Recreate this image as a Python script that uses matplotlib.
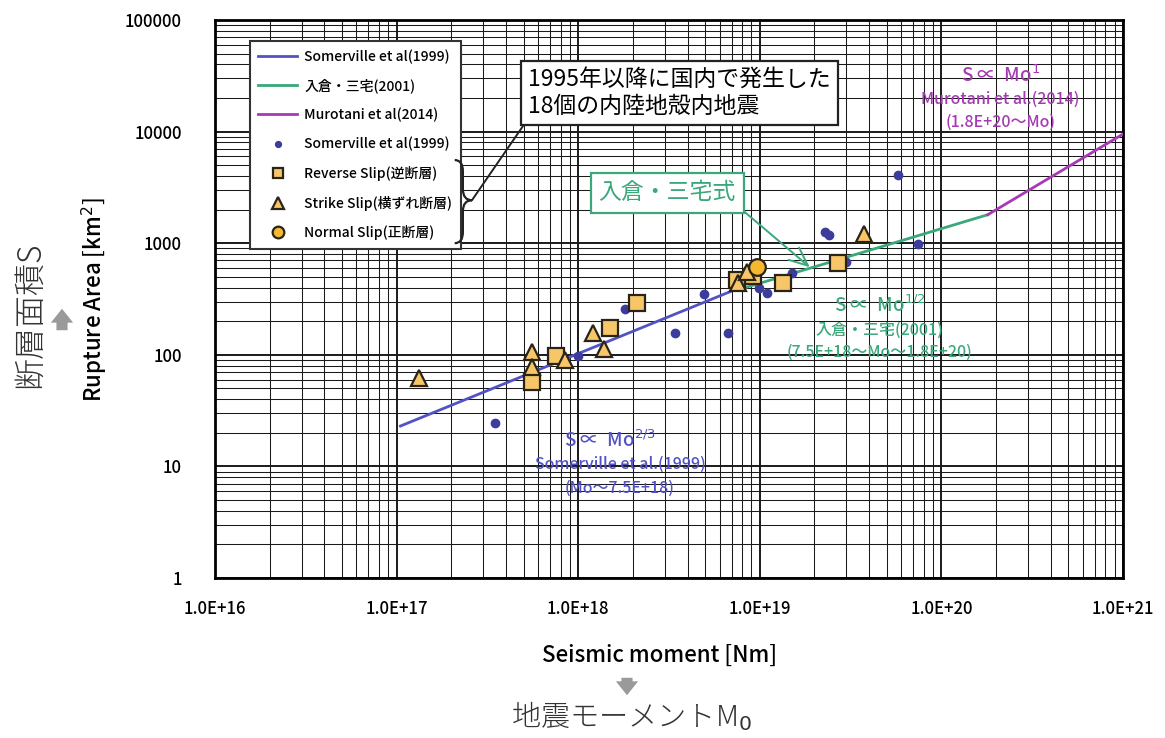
import numpy as np
import matplotlib
matplotlib.use('Agg')
import matplotlib.pyplot as plt
from matplotlib.ticker import LogLocator, FuncFormatter, NullFormatter
from matplotlib.path import Path
from matplotlib.patches import PathPatch

plt.rcParams['font.family'] = ['Noto Sans CJK JP', 'DejaVu Sans']

# scaling law lines (end points)
somer_x = [1.05e17, 7.5e18]
somer_y = [23, 390]
iri_x = [7.5e18, 1.8e20]
iri_y = [380, 1800]
muro_x = [1.8e20, 1.0e21]
muro_y = [1800, 9500]

# Somerville et al (1999) data points
dots_x = [3.5e17, 1.0e18, 1.8e18, 3.4e18, 4.9e18, 6.7e18, 9.9e18, 1.1e19,
          1.5e19, 2.3e19, 2.4e19, 3.0e19, 5.8e19, 7.4e19]
dots_y = [24.5, 97, 257, 157, 350, 157, 397, 358, 541, 1250, 1180, 679, 4080, 984]

# 18 domestic crustal earthquakes since 1995
rev_x = [5.6e17, 7.5e17, 1.5e18, 2.1e18, 7.5e18, 9.2e18, 1.34e19, 2.7e19]
rev_y = [57, 97, 174, 291, 468, 508, 440, 665]
strike_x = [1.33e17, 5.6e17, 5.6e17, 8.5e17, 1.2e18, 1.39e18, 7.6e18, 8.5e18, 3.75e19]
strike_y = [62, 106, 78, 90, 157, 113, 440, 552, 1209]
normal_x = [9.6e18]
normal_y = [612]

c_somer = '#5252c4'
c_iri = '#3aa87a'
c_muro = '#a63ab4'
c_dot = '#3c3c9c'
c_face = '#f6c668'
c_edge = '#2a2418'

fig = plt.figure(figsize=(11.65, 7.38), dpi=100)
ax = fig.add_axes([215 / 1165, 160 / 738, 908 / 1165, 558 / 738])

ax.plot(somer_x, somer_y, color=c_somer, lw=2, label='Somerville et al(1999)', zorder=3)
ax.plot(iri_x, iri_y, color=c_iri, lw=2, label='入倉・三宅(2001)', zorder=3)
ax.plot(muro_x, muro_y, color=c_muro, lw=2, label='Murotani et al(2014)', zorder=3)
ax.plot(dots_x, dots_y, 'o', ms=6, color=c_dot, mec=c_dot,
        label='Somerville et al(1999)', zorder=4)
ax.plot(rev_x, rev_y, 's', ms=11, mfc=c_face, mec=c_edge, mew=1.6,
        label='Reverse Slip(逆断層)', zorder=5)
ax.plot(strike_x, strike_y, '^', ms=12, mfc=c_face, mec=c_edge, mew=1.6,
        label='Strike Slip(横ずれ断層)', zorder=5)
ax.plot(normal_x, normal_y, 'o', ms=12, mfc='#f5b830', mec=c_edge, mew=1.6,
        label='Normal Slip(正断層)', zorder=5)

ax.set_xscale('log')
ax.set_yscale('log')
ax.set_xlim(1e16, 1e21)
ax.set_ylim(1, 1e5)
ax.xaxis.set_major_locator(LogLocator(base=10, numticks=10))
ax.xaxis.set_minor_locator(LogLocator(base=10, subs=np.arange(2, 10), numticks=20))
ax.yaxis.set_major_locator(LogLocator(base=10, numticks=10))
ax.yaxis.set_minor_locator(LogLocator(base=10, subs=np.arange(2, 10), numticks=20))
ax.xaxis.set_major_formatter(FuncFormatter(lambda v, p: f'{v:.1E}'))
ax.yaxis.set_major_formatter(FuncFormatter(lambda v, p: f'{int(round(v))}'))
ax.xaxis.set_minor_formatter(NullFormatter())
ax.yaxis.set_minor_formatter(NullFormatter())
ax.tick_params(which='both', length=0)
ax.tick_params(axis='x', pad=16, labelsize=12)
ax.tick_params(axis='y', pad=24, labelsize=12)
for lab in ax.get_xticklabels() + ax.get_yticklabels():
    lab.set_fontweight('medium')
ax.grid(which='major', color='#1a1a1a', lw=1.4)
ax.grid(which='minor', color='#1a1a1a', lw=0.75)
ax.set_axisbelow(True)
for s in ax.spines.values():
    s.set_linewidth(2)

leg = ax.legend(loc='upper left', bbox_to_anchor=(0.031, 0.975), fontsize=10,
                frameon=True, fancybox=False, edgecolor='#333333', framealpha=1,
                labelspacing=1.05, handlelength=2.8, handletextpad=0.5,
                borderpad=0.6, markerscale=0.7)
leg.get_frame().set_linewidth(1.5)
leg.set_zorder(10)
for t in leg.get_texts():
    t.set_fontweight('medium')

# curly brace next to the fault type entries
bx0, bx1, bx2 = 0.264, 0.273, 0.283
by0, bym, by1 = 0.749, 0.677, 0.600
verts = [(bx0, by0), (bx1, by0), (bx1, by0 - 0.02),
         (bx1, bym + 0.02),
         (bx1, bym), (bx2, bym),
         (bx1, bym), (bx1, bym - 0.02),
         (bx1, by1 + 0.02),
         (bx1, by1), (bx0, by1)]
codes = [Path.MOVETO, Path.CURVE3, Path.CURVE3, Path.LINETO,
         Path.CURVE3, Path.CURVE3, Path.CURVE3, Path.CURVE3,
         Path.LINETO, Path.CURVE3, Path.CURVE3]
ax.add_patch(PathPatch(Path(verts, codes), transform=ax.transAxes, fill=False,
                       lw=1.6, color='#222222', zorder=11, clip_on=False))

ax.annotate('1995年以降に国内で発生した\n18個の内陸地殻内地震',
            xy=(bx2, bym), xycoords='axes fraction',
            xytext=(0.345, 0.869), textcoords='axes fraction',
            ha='left', va='center', fontsize=16.5, linespacing=1.25, zorder=12,
            bbox=dict(boxstyle='square,pad=0.3', fc='white', ec='#222222', lw=1.6),
            arrowprops=dict(arrowstyle='-', color='#222222', lw=1.4,
                            relpos=(0, 0), shrinkA=0, shrinkB=0))

ax.annotate('入倉・三宅式', xy=(0.655, 0.557), xycoords='axes fraction',
            xytext=(0.498, 0.690), textcoords='axes fraction',
            ha='center', va='center', fontsize=16.5, color=c_iri, zorder=12,
            bbox=dict(boxstyle='square,pad=0.35', fc='white', ec=c_iri, lw=1.6),
            arrowprops=dict(arrowstyle='->,head_length=0.8,head_width=0.35',
                            color=c_iri, lw=1.4, relpos=(1, 0),
                            shrinkA=0, shrinkB=0))

# scaling law captions
cap = dict(transform=ax.transAxes, ha='center', va='center', fontweight='medium')
ax.text(0.435, 0.247, r'S ∝  Mo$^{2/3}$', fontsize=13.5, color=c_somer, **cap)
ax.text(0.446, 0.203, 'Somerville et al.(1999)', fontsize=11.5, color=c_somer, **cap)
ax.text(0.446, 0.161, '(Mo～7.5E+18)', fontsize=11.5, color=c_somer, **cap)

ax.text(0.732, 0.489, r'S ∝  Mo$^{1/2}$', fontsize=13.5, color=c_iri, **cap)
ax.text(0.732, 0.444, '入倉・三宅(2001)', fontsize=11.5, color=c_iri, **cap)
ax.text(0.732, 0.405, '(7.5E+18～Mo～1.8E+20)', fontsize=11.5, color=c_iri, **cap)

ax.text(0.865, 0.901, r'S ∝  Mo$^{1}$', fontsize=13.5, color=c_muro, **cap)
ax.text(0.865, 0.857, 'Murotani et al.(2014)', fontsize=11.5, color=c_muro, **cap)
ax.text(0.865, 0.817, '(1.8E+20～Mo)', fontsize=11.5, color=c_muro, **cap)

# axis titles
fig.text(95 / 1165, 1 - 300 / 738, r'Rupture Area [km$^2$]', rotation=90,
         ha='center', va='center', fontsize=16, fontweight='medium')
fig.text(30 / 1165, 1 - 315 / 738, '断層面積S', rotation=90,
         ha='center', va='center', fontsize=23, fontweight='light', color='#333333')
fig.text(660 / 1165, 1 - 655 / 738, 'Seismic moment [Nm]',
         ha='center', va='center', fontsize=16, fontweight='medium')
fig.text(632 / 1165, 1 - 716 / 738, r'地震モーメントM$_0$',
         ha='center', va='center', fontsize=21, fontweight='light', color='#333333')

arrow = dict(arrowstyle='simple,head_width=1.6,head_length=1.0,tail_width=0.8',
             color='#9a9a9a', lw=0)
ax.annotate('', xy=(62 / 1165, 1 - 306 / 738), xycoords='figure fraction',
            xytext=(62 / 1165, 1 - 333 / 738), textcoords='figure fraction',
            arrowprops=arrow, annotation_clip=False)
ax.annotate('', xy=(627 / 1165, 1 - 698 / 738), xycoords='figure fraction',
            xytext=(627 / 1165, 1 - 675 / 738), textcoords='figure fraction',
            arrowprops=arrow, annotation_clip=False)

fig.savefig('out.png', dpi=100)
